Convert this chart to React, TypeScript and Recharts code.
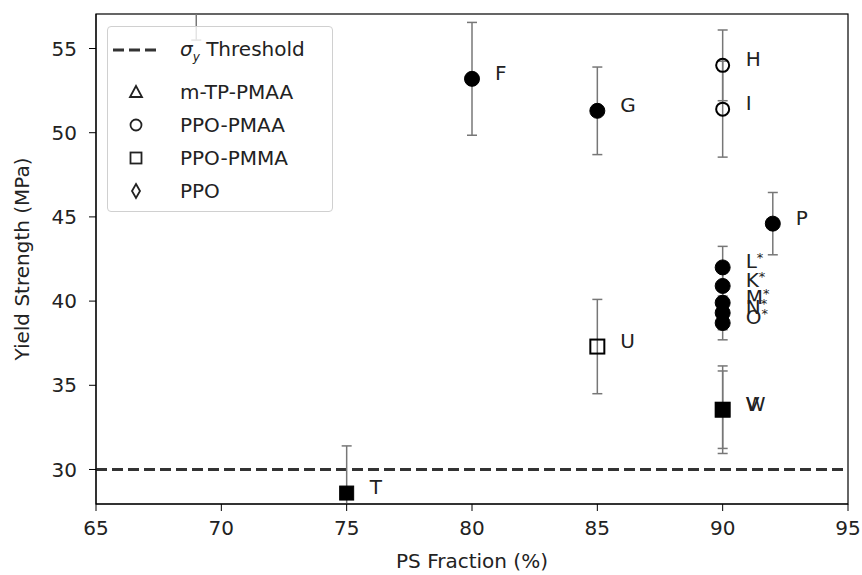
import React from "react";
import {
  ScatterChart,
  Scatter,
  XAxis,
  YAxis,
  ErrorBar,
  ReferenceLine,
  ReferenceArea,
  Legend,
  Label,
} from "recharts";

const FONT = "'DejaVu Sans', sans-serif";
const INK = "#222";
const CLIP = "url(#plotClip)";

const xTicks = [65, 70, 75, 80, 85, 90, 95];
const yTicks = [30, 35, 40, 45, 50, 55];
const xDomain = [65, 95];
const yDomain = [27.95, 57.05];
const threshold = 30;

// black filled circles
const solidCircles = [
  { id: "F", x: 80, y: 53.2, err: 3.35 },
  { id: "G", x: 85, y: 51.3, err: 2.6 },
  { id: "L*", x: 90, y: 42.0, err: 1.25 },
  { id: "K*", x: 90, y: 40.9, err: 1.0 },
  { id: "M*", x: 90, y: 39.9, err: 1.1 },
  { id: "N*", x: 90, y: 39.3, err: 1.0 },
  { id: "O*", x: 90, y: 38.7, err: 1.0 },
  { id: "P", x: 92, y: 44.6, err: 1.85 },
];

// PPO-PMAA
const openCircles = [
  { id: "H", x: 90, y: 54.0, err: 2.1 },
  { id: "I", x: 90, y: 51.4, err: 2.85 },
];

// PPO-PMMA
const openSquares = [
  { id: "U", x: 85, y: 37.3, err: 2.8 },
  { id: "W", x: 90, y: 33.55, err: 2.3 },
];

const solidSquares = [
  { id: "T", x: 75, y: 28.6, err: 2.8 },
  { id: "V", x: 90, y: 33.55, err: 2.6 },
];

// m-TP-PMAA, sits above the visible range (only its lower error bar shows)
const triangles = [{ id: "E", x: 69, y: 60.0, err: 4.5 }];

const legendItems = [
  { kind: "line", label: "Threshold" },
  { kind: "triangle", label: "m-TP-PMAA" },
  { kind: "circle", label: "PPO-PMAA" },
  { kind: "square", label: "PPO-PMMA" },
  { kind: "diamond", label: "PPO" },
];
const legendRowTop = [23, 65, 98, 131, 164];

function PointLabel({ x, y, id }: { x: number; y: number; id: string }) {
  const star = id.endsWith("*");
  const base = star ? id.slice(0, -1) : id;
  return (
    <text x={x + 23} y={y + 1} fontFamily={FONT} fontSize={20} fill={INK}>
      {base}
      {star && (
        <tspan fontSize={13} dy={-6} fill={INK}>
          *
        </tspan>
      )}
    </text>
  );
}

function markerShape(kind: string, filled: boolean) {
  return (props: any) => {
    const { cx, cy, payload } = props;
    if (cx == null || cy == null) return <g />;
    const fill = filled ? "#000" : "none";
    let mark;
    if (kind === "circle") {
      mark = <circle cx={cx} cy={cy} r={filled ? 7.5 : 6.5} fill={fill} stroke="#000" strokeWidth={filled ? 1 : 2} />;
    } else if (kind === "square") {
      mark = <rect x={cx - 7} y={cy - 7} width={14} height={14} fill={fill} stroke="#000" strokeWidth={filled ? 1 : 2} />;
    } else {
      mark = (
        <polygon
          points={`${cx},${cy - 8} ${cx + 7},${cy + 5} ${cx - 7},${cy + 5}`}
          fill={fill}
          stroke="#000"
          strokeWidth={2}
        />
      );
    }
    return (
      <g clipPath={CLIP}>
        {mark}
        {cy > 0 && <PointLabel x={cx} y={cy} id={payload.id} />}
      </g>
    );
  };
}

// the frame around the plot, which also defines the clip for the series
function PlotFrame(p: any) {
  return (
    <g>
      <defs>
        <clipPath id="plotClip" clipPathUnits="userSpaceOnUse">
          <rect x={p.x} y={p.y} width={p.width} height={p.height} />
        </clipPath>
      </defs>
      <rect x={p.x} y={p.y} width={p.width} height={p.height} fill="none" stroke="#000" strokeWidth={1.2} />
    </g>
  );
}

function LegendMark({ kind }: { kind: string }) {
  if (kind === "line") {
    return (
      <svg width={50} height={10}>
        <line x1={2} y1={5} x2={48} y2={5} stroke="#333" strokeWidth={3} strokeDasharray="11 5" />
      </svg>
    );
  }
  return (
    <svg width={50} height={20}>
      {kind === "triangle" && <polygon points="25,4 31,15 19,15" fill="none" stroke="#222" strokeWidth={1.8} />}
      {kind === "circle" && <circle cx={25} cy={10} r={5.5} fill="none" stroke="#222" strokeWidth={1.8} />}
      {kind === "square" && <rect x={19.5} y={4.5} width={11} height={11} fill="none" stroke="#222" strokeWidth={1.8} />}
      {kind === "diamond" && <polygon points="25,3 29,10 25,17 21,10" fill="none" stroke="#222" strokeWidth={1.8} />}
    </svg>
  );
}

function LegendBox() {
  return (
    <div
      style={{
        position: "relative",
        width: 224,
        height: 184,
        border: "1px solid #d0d0d0",
        borderRadius: 4,
        background: "rgba(255,255,255,0.8)",
        fontFamily: FONT,
        fontSize: 20,
        color: INK,
      }}
    >
      {legendItems.map((item, i) => (
        <div
          key={item.kind}
          style={{
            position: "absolute",
            left: 3,
            top: legendRowTop[i] - 12,
            height: 24,
            display: "flex",
            alignItems: "center",
            whiteSpace: "nowrap",
          }}
        >
          <LegendMark kind={item.kind} />
          <span style={{ marginLeft: 19 }}>
            {item.kind === "line" && (
              <>
                <i>σ</i>
                <sub style={{ fontSize: 12, fontStyle: "italic" }}>y</sub>{" "}
              </>
            )}
            {item.label}
          </span>
        </div>
      ))}
    </div>
  );
}

const tickStyle = { fontFamily: FONT, fontSize: 20, fill: INK };
const errStyle = { stroke: "#777", strokeWidth: 1.5, width: 5, clipPath: CLIP };

export default function App() {
  return (
    <div style={{ position: "absolute", left: 0, top: 0, background: "#fff" }}>
      <ScatterChart width={862} height={575} margin={{ top: 14, right: 14, bottom: 0, left: 0 }}>
        <XAxis
          type="number"
          dataKey="x"
          domain={xDomain}
          ticks={xTicks}
          allowDataOverflow
          height={71}
          tick={tickStyle}
          tickSize={7}
          tickMargin={10}
          stroke="#000"
        >
          <Label
            content={(p: any) => {
              const vb = p.viewBox;
              return (
                <text
                  x={vb.x + vb.width / 2}
                  y={vb.y + 57}
                  textAnchor="middle"
                  dominantBaseline="central"
                  fontFamily={FONT}
                  fontSize={20}
                  fill={INK}
                >
                  PS Fraction (%)
                </text>
              );
            }}
          />
        </XAxis>
        <YAxis
          type="number"
          dataKey="y"
          domain={yDomain}
          ticks={yTicks}
          allowDataOverflow
          width={96}
          tick={tickStyle}
          tickSize={7}
          tickMargin={12}
          stroke="#000"
        >
          <Label
            content={(p: any) => {
              const vb = p.viewBox;
              const lx = vb.x + 22;
              const ly = vb.y + vb.height / 2;
              return (
                <text
                  x={lx}
                  y={ly}
                  transform={`rotate(-90 ${lx} ${ly})`}
                  textAnchor="middle"
                  dominantBaseline="central"
                  fontFamily={FONT}
                  fontSize={20}
                  fill={INK}
                >
                  Yield Strength (MPa)
                </text>
              );
            }}
          />
        </YAxis>
        <ReferenceArea
          x1={xDomain[0]}
          x2={xDomain[1]}
          y1={yDomain[0]}
          y2={yDomain[1]}
          shape={<PlotFrame />}
        />
        <ReferenceLine y={threshold} stroke="#333" strokeWidth={3} strokeDasharray="11 5" />
        <Scatter data={triangles} shape={markerShape("triangle", false)} isAnimationActive={false}>
          <ErrorBar dataKey="err" direction="y" {...errStyle} />
        </Scatter>
        <Scatter data={solidCircles} shape={markerShape("circle", true)} isAnimationActive={false}>
          <ErrorBar dataKey="err" direction="y" {...errStyle} />
        </Scatter>
        <Scatter data={openCircles} shape={markerShape("circle", false)} isAnimationActive={false}>
          <ErrorBar dataKey="err" direction="y" {...errStyle} />
        </Scatter>
        <Scatter data={openSquares} shape={markerShape("square", false)} isAnimationActive={false}>
          <ErrorBar dataKey="err" direction="y" {...errStyle} />
        </Scatter>
        <Scatter data={solidSquares} shape={markerShape("square", true)} isAnimationActive={false}>
          <ErrorBar dataKey="err" direction="y" {...errStyle} />
        </Scatter>
        <Legend
          layout="vertical"
          align="center"
          verticalAlign="middle"
          content={() => <LegendBox />}
          wrapperStyle={{ left: 107, top: 26, width: 226, height: 186 }}
        />
      </ScatterChart>
    </div>
  );
}
